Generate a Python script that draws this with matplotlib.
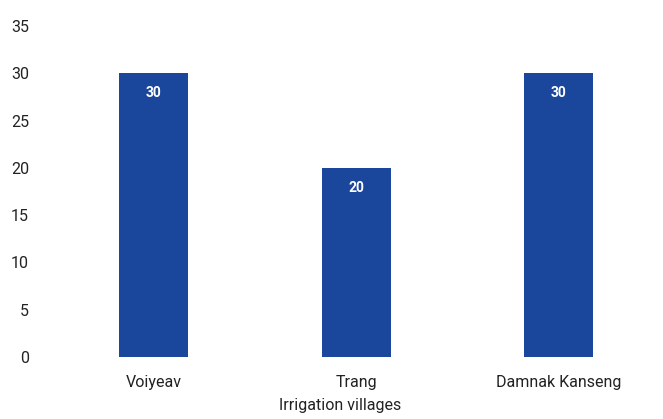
import matplotlib.pyplot as plt

villages = ["Voiyeav", "Trang", "Damnak Kanseng"]
values = [30, 20, 30]
yticks = [0, 5, 10, 15, 20, 25, 30, 35]

plt.rcParams["font.family"] = ["Roboto", "DejaVu Sans"]

fig = plt.figure(figsize=(6.63, 4.19), dpi=100)
ax = fig.add_axes([40 / 663, 62 / 419, 600 / 663, 331 / 419])

bars = ax.bar(range(len(villages)), values, width=0.34, color="#1a479c")
for rect, v in zip(bars, values):
    ax.text(rect.get_x() + rect.get_width() / 2, v - 2.1, f"{v}",
            ha="center", va="center", color="white", fontsize=10, fontweight="bold")

ax.set_xlim(-0.56, 2.4)
ax.set_ylim(0, 35)
ax.set_yticks(yticks)
ax.set_xticks(range(len(villages)))
ax.set_xticklabels(villages)
ax.tick_params(axis="both", length=0, labelsize=11.5, colors="#222222")
ax.tick_params(axis="y", pad=8)
ax.tick_params(axis="x", pad=13)
for s in ax.spines.values():
    s.set_visible(False)
ax.set_xlabel("Irrigation villages", fontsize=11.5, color="#222222", labelpad=6)

fig.savefig("out.png", dpi=100)
